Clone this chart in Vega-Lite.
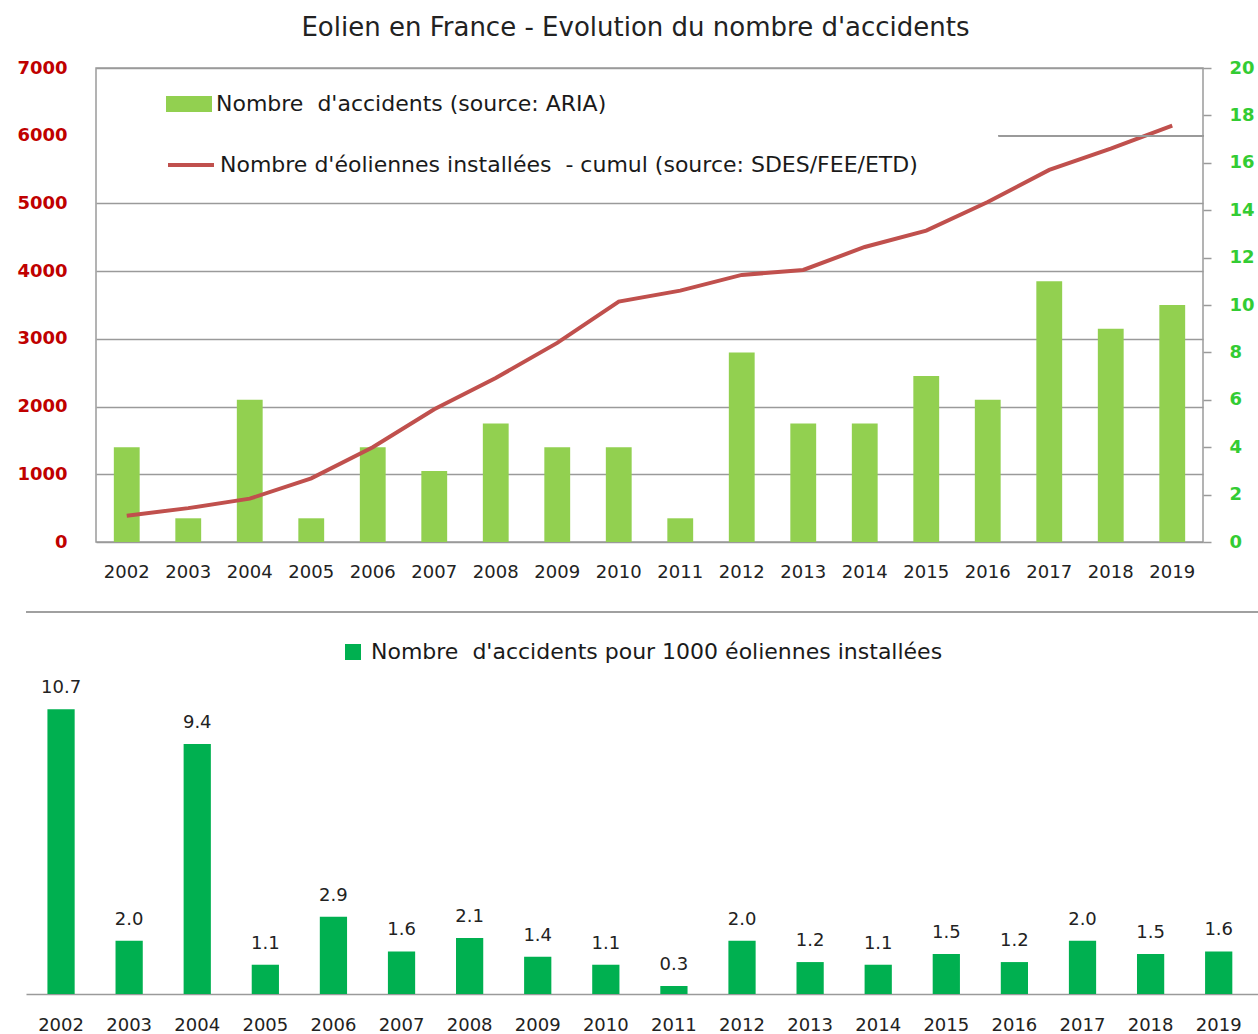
{
  "$schema": "https://vega.github.io/schema/vega-lite/v6.json",
  "background": "white",
  "padding": {"left": 16, "top": 14, "right": 5, "bottom": 0},
  "spacing": 146,
  "center": true,
  "bounds": "flush",
  "config": {
    "font": "DejaVu Sans",
    "view": {"stroke": null}
  },
  "datasets": {
    "main": [
      {"annee": "2002", "accidents": 4, "eoliennes": 388, "taux": 10.7},
      {"annee": "2003", "accidents": 1, "eoliennes": 500, "taux": 2.0},
      {"annee": "2004", "accidents": 6, "eoliennes": 640, "taux": 9.4},
      {"annee": "2005", "accidents": 1, "eoliennes": 940, "taux": 1.1},
      {"annee": "2006", "accidents": 4, "eoliennes": 1400, "taux": 2.9},
      {"annee": "2007", "accidents": 3, "eoliennes": 1960, "taux": 1.6},
      {"annee": "2008", "accidents": 5, "eoliennes": 2422, "taux": 2.1},
      {"annee": "2009", "accidents": 4, "eoliennes": 2940, "taux": 1.4},
      {"annee": "2010", "accidents": 4, "eoliennes": 3550, "taux": 1.1},
      {"annee": "2011", "accidents": 1, "eoliennes": 3712, "taux": 0.3},
      {"annee": "2012", "accidents": 8, "eoliennes": 3944, "taux": 2.0},
      {"annee": "2013", "accidents": 5, "eoliennes": 4018, "taux": 1.2},
      {"annee": "2014", "accidents": 5, "eoliennes": 4357, "taux": 1.1},
      {"annee": "2015", "accidents": 7, "eoliennes": 4598, "taux": 1.5},
      {"annee": "2016", "accidents": 6, "eoliennes": 5022, "taux": 1.2},
      {"annee": "2017", "accidents": 11, "eoliennes": 5495, "taux": 2.0},
      {"annee": "2018", "accidents": 9, "eoliennes": 5810, "taux": 1.5},
      {"annee": "2019", "accidents": 10, "eoliennes": 6150, "taux": 1.6}
    ]
  },
  "resolve": {
    "scale": {"fill": "independent", "stroke": "independent"},
    "legend": {"fill": "independent", "stroke": "independent"}
  },
  "vconcat": [
    {
      "width": 1107,
      "height": 474,
      "view": {"stroke": "#9a9a9a", "strokeWidth": 1.5},
      "title": {
        "text": "Eolien en France - Evolution du nombre d'accidents",
        "font": "DejaVu Sans",
        "fontSize": 26,
        "fontWeight": "normal",
        "color": "#222222",
        "anchor": "middle",
        "frame": "bounds",
        "offset": 18
      },
      "data": {"name": "main"},
      "layer": [
        {
          "mark": {"type": "bar", "color": "#92D050"},
          "encoding": {
            "x": {
              "field": "annee",
              "type": "nominal",
              "sort": null,
              "title": null,
              "scale": {"paddingInner": 0.58, "paddingOuter": 0.29},
              "axis": {
                "labelAngle": 0,
                "labelFont": "DejaVu Sans",
                "labelFontSize": 18,
                "labelColor": "#222222",
                "labelPadding": 21,
                "ticks": false,
                "domain": false
              }
            },
            "y": {
              "field": "accidents",
              "type": "quantitative",
              "title": null,
              "scale": {"domain": [0, 20], "nice": false},
              "axis": {
                "orient": "right",
                "values": [0, 2, 4, 6, 8, 10, 12, 14, 16, 18, 20],
                "grid": false,
                "domain": false,
                "ticks": true,
                "tickSize": 8,
                "tickColor": "#9a9a9a",
                "tickWidth": 1.5,
                "labelPadding": 18,
                "labelFont": "DejaVu Sans",
                "labelFontSize": 18,
                "labelFontWeight": "bold",
                "labelColor": "#33CC33"
              }
            },
            "fill": {
              "datum": "Nombre  d'accidents (source: ARIA)",
              "type": "nominal",
              "scale": {"range": ["#92D050"]},
              "legend": {
                "title": null,
                "orient": "none",
                "legendX": 70,
                "legendY": 13,
                "padding": 0,
                "symbolType": "M-1,-0.35H1V0.35H-1Z",
                "symbolSize": 2116,
                "symbolStrokeWidth": 0,
                "symbolOpacity": 1,
                "labelFont": "DejaVu Sans",
                "labelFontSize": 22,
                "labelColor": "#1a1a1a",
                "labelOffset": 4,
                "labelLimit": 1000,
                "labelExpr": "'Nombre\u00a0 d\\'accidents (source: ARIA)'"
              }
            }
          }
        },
        {
          "layer": [
            {
              "mark": {"type": "line", "strokeWidth": 4, "color": "#C0504D"},
              "encoding": {
                "x": {"field": "annee", "type": "nominal", "sort": null},
                "y": {
                  "field": "eoliennes",
                  "type": "quantitative",
                  "title": null,
                  "scale": {"domain": [0, 7000], "nice": false},
                  "axis": {
                    "orient": "left",
                    "values": [0, 1000, 2000, 3000, 4000, 5000, 6000, 7000],
                    "format": "d",
                    "grid": true,
                    "gridColor": "#9a9a9a",
                    "gridWidth": 1.5,
                    "gridOpacity": {"condition": {"test": "datum.value === 6000", "value": 0}, "value": 1},
                    "domain": false,
                    "ticks": false,
                    "tickSize": 0,
                    "labelPadding": 29,
                    "labelFont": "DejaVu Sans",
                    "labelFontSize": 18,
                    "labelFontWeight": "bold",
                    "labelColor": "#C00000"
                  }
                },
                "stroke": {
                  "datum": "Nombre d'éoliennes installées  - cumul (source: SDES/FEE/ETD)",
                  "type": "nominal",
                  "scale": {"range": ["#C0504D"]},
                  "legend": {
                    "title": null,
                    "orient": "none",
                    "legendX": 70,
                    "legendY": 72,
                    "padding": 0,
                    "symbolType": "stroke",
                    "symbolSize": 2116,
                    "symbolStrokeWidth": 4,
                    "symbolOpacity": 1,
                    "labelFont": "DejaVu Sans",
                    "labelFontSize": 22,
                    "labelColor": "#1a1a1a",
                    "labelOffset": 4,
                    "labelLimit": 1000,
                    "labelExpr": "'Nombre d\\'éoliennes installées\u00a0 - cumul (source: SDES/FEE/ETD)'"
                  }
                }
              }
            },
            {
              "mark": {"type": "rule", "color": "#9a9a9a", "strokeWidth": 1.5},
              "encoding": {
                "x": {"datum": "2016", "type": "nominal", "bandPosition": 0.93},
                "x2": {"datum": "2019", "bandPosition": 1.7},
                "y": {"datum": 6000, "type": "quantitative"}
              }
            }
          ]
        }
      ],
      "resolve": {"scale": {"y": "independent"}}
    },
    {
      "width": 1247,
      "height": 306,
      "data": {"name": "main"},
      "layer": [
        {
          "mark": {"type": "bar", "color": "#00B050"},
          "encoding": {
            "x": {
              "field": "annee",
              "type": "nominal",
              "sort": null,
              "title": null,
              "scale": {"paddingInner": 0.6, "paddingOuter": 0.456, "align": 0.345},
              "axis": {
                "labelAngle": 0,
                "labelFont": "DejaVu Sans",
                "labelFontSize": 18,
                "labelColor": "#222222",
                "labelPadding": 22,
                "ticks": false,
                "domain": true,
                "domainColor": "#9a9a9a",
                "domainWidth": 1.5
              }
            },
            "y": {
              "field": "taux",
              "type": "quantitative",
              "title": null,
              "scale": {"domain": [0, 11.5], "nice": false},
              "axis": null
            },
            "fill": {
              "datum": "Nombre  d'accidents pour 1000 éoliennes installées",
              "type": "nominal",
              "scale": {"range": ["#00B050"]},
              "legend": {
                "title": null,
                "orient": "none",
                "legendX": 316,
                "legendY": -47,
                "padding": 0,
                "symbolType": "square",
                "symbolSize": 256,
                "symbolStrokeWidth": 0,
                "symbolOpacity": 1,
                "labelFont": "DejaVu Sans",
                "labelFontSize": 22,
                "labelColor": "#1a1a1a",
                "labelOffset": 7,
                "labelLimit": 1000,
                "labelExpr": "'Nombre\u00a0 d\\'accidents pour 1000 éoliennes installées'"
              }
            }
          }
        },
        {
          "mark": {"type": "text", "font": "DejaVu Sans", "fontSize": 18, "color": "#222222", "baseline": "alphabetic", "dy": -16},
          "encoding": {
            "x": {"field": "annee", "type": "nominal", "sort": null},
            "y": {"field": "taux", "type": "quantitative", "axis": null},
            "text": {"field": "taux", "type": "quantitative", "format": ".1f"}
          }
        },
        {
          "mark": {"type": "rule", "color": "#a0a0a0", "strokeWidth": 1.5},
          "encoding": {
            "y": {"datum": 14.36, "type": "quantitative", "axis": null}
          }
        }
      ]
    }
  ]
}
